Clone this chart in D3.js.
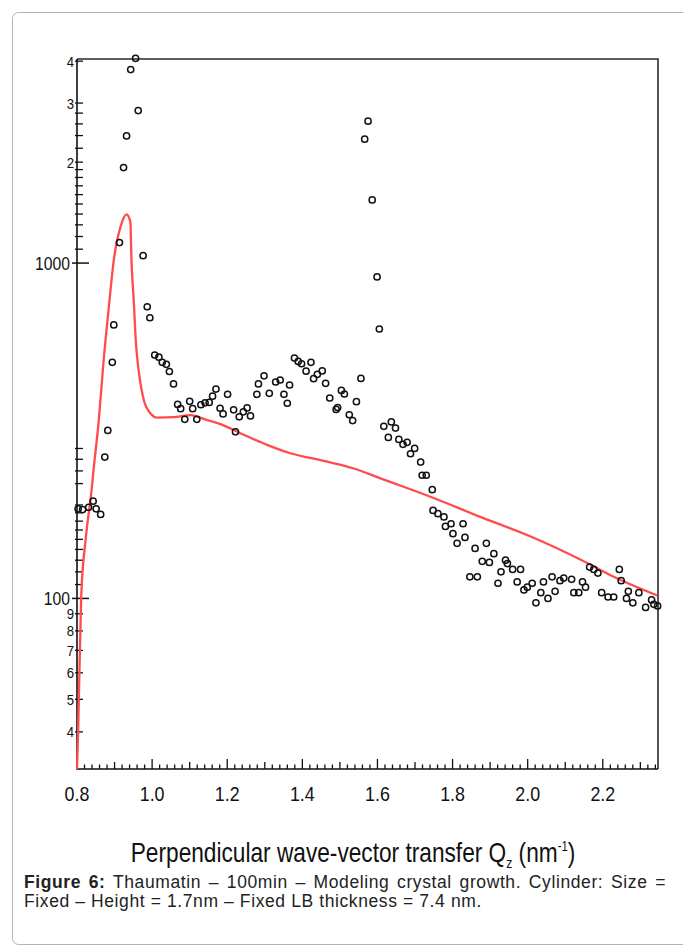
<!DOCTYPE html>
<html>
<head>
<meta charset="utf-8">
<script src="https://cdn.jsdelivr.net/npm/d3@7"></script>
<style>
  body { margin: 0; background: #fff; }
  #wrap { position: relative; width: 683px; height: 947px; overflow: hidden; }
  .cap { position: absolute; left: 24px; width: 642px; font-family: "Liberation Sans", Arial, sans-serif;
         font-size: 17.5px; letter-spacing: 0.6px; line-height: 19px; color: #222; white-space: nowrap; }
  .cap.just { text-align: justify; text-align-last: justify; white-space: normal; }
</style>
</head>
<body>
<div id="wrap"></div>
<script>
// measured scattering intensity (open circles)
const qData = [0.803, 0.815, 0.831, 0.843, 0.851, 0.863, 0.874, 0.882, 0.894, 0.898,
    0.913, 0.924, 0.932, 0.943, 0.956, 0.963, 0.976, 0.987, 0.994, 1.007,
    1.018, 1.027, 1.038, 1.046, 1.057, 1.068, 1.076, 1.087, 1.100, 1.108,
    1.119, 1.130, 1.141, 1.152, 1.161, 1.170, 1.181, 1.189, 1.201, 1.217,
    1.222, 1.232, 1.243, 1.253, 1.262, 1.279, 1.283, 1.298, 1.312, 1.329,
    1.341, 1.351, 1.360, 1.366, 1.379, 1.389, 1.398, 1.410, 1.423, 1.430,
    1.440, 1.453, 1.462, 1.473, 1.490, 1.494, 1.504, 1.512, 1.525, 1.534,
    1.544, 1.556, 1.566, 1.575, 1.586, 1.599, 1.605, 1.617, 1.629, 1.637,
    1.648, 1.657, 1.668, 1.679, 1.688, 1.699, 1.715, 1.719, 1.730, 1.746,
    1.748, 1.761, 1.777, 1.781, 1.796, 1.801, 1.812, 1.828, 1.833, 1.846,
    1.860, 1.866, 1.879, 1.890, 1.898, 1.910, 1.921, 1.929, 1.941, 1.946,
    1.960, 1.972, 1.981, 1.990, 1.999, 2.012, 2.022, 2.035, 2.042, 2.054,
    2.065, 2.073, 2.086, 2.096, 2.117, 2.123, 2.136, 2.146, 2.154, 2.165,
    2.176, 2.187, 2.197, 2.214, 2.229, 2.244, 2.249, 2.263, 2.268, 2.280,
    2.296, 2.314, 2.330, 2.336, 2.346];
const iData = [185, 184, 187, 195, 185, 178, 264, 317, 506, 654,
    1151, 1926, 2394, 3776, 4080, 2849, 1052, 741, 687, 532,
    524, 506, 499, 475, 436, 379, 368, 342, 387, 368,
    342, 378, 383, 384, 401, 421, 369, 355, 406, 365,
    314, 348, 360, 370, 350, 406, 436, 461, 409, 442,
    448, 406, 382, 433, 521, 509, 501, 476, 506, 452,
    466, 477, 438, 396, 366, 371, 417, 407, 353, 339,
    386, 453, 2341, 2649, 1543, 909, 636, 326, 302, 336,
    322, 298, 288, 292, 270, 280, 255, 233, 233, 211,
    183, 179, 175, 164, 167, 156, 146, 167, 152, 116,
    141, 116, 129, 146, 128, 136, 111, 120, 130, 127,
    122, 112, 122, 106, 108, 111, 97, 104, 112, 100,
    116, 105, 113, 115, 114, 104, 104, 112, 108, 124,
    122, 119, 104, 101, 101, 122, 113, 100, 105, 97,
    104, 94, 99, 96, 95];

// cylinder model (red curve)
const fitQ = [0.800, 0.803, 0.811, 0.823, 0.831, 0.836, 0.845, 0.858, 0.871, 0.884,
    0.898, 0.916, 0.932, 0.942, 0.945, 0.951, 0.957, 0.964, 0.978, 0.996,
    1.013, 1.058, 1.102, 1.147, 1.182, 1.235, 1.306, 1.368, 1.457, 1.537,
    1.608, 1.741, 1.874, 2.008, 2.144, 2.229, 2.345];
const fitI = [31, 40, 100, 150, 179, 197, 247, 340, 514, 725,
    1021, 1284, 1398, 1329, 1021, 776, 576, 480, 390, 356,
    346, 347, 352, 340, 331, 311, 287, 271, 257, 244,
    228, 201, 175, 153, 130, 116, 102];

// axis ticks
const xTickLabels = ["0.8", "1.0", "1.2", "1.4", "1.6", "1.8", "2.0", "2.2"];
const yMajorTicks = [100, 1000];
const yDigitTicks = [40, 50, 60, 70, 80, 90, 2000, 3000, 4000];
const yDigitLabels = ["4", "5", "6", "7", "8", "9", "2", "3", "4"];
const yMinorTicks = [110, 120, 130, 140, 150, 160, 170, 180, 190, 220, 240, 260, 280,
    1100, 1200, 1300, 1400, 1500, 1600, 1700, 1800, 1900, 2200, 2400, 2600, 2800];

const pLeft = 77, pRight = 658, pTop = 59, pBottom = 769;
const font = '"Liberation Sans", Arial, sans-serif';
const squeeze = 0.85; // the original labels use a condensed face

let wrap = d3.select("#wrap");

let svg = wrap.append("svg")
    .attr("width", 683)
    .attr("height", 947)
    .style("position", "absolute")
    .style("left", 0)
    .style("top", 0);

// page box
svg.append("rect")
    .attr("x", 12.5).attr("y", 12.5)
    .attr("width", 700).attr("height", 932)
    .attr("rx", 6)
    .attr("fill", "none")
    .attr("stroke", "#b4b4b4")
    .attr("stroke-width", 1);

//Create scale functions
let xScale = d3.scaleLinear()
    .domain([0.8, 2.347])
    .range([pLeft, pRight]);

let yScale = d3.scaleLog()
    .domain([31, 4060])
    .range([pBottom, pTop]);

// frame (top and right)
svg.append("path")
    .attr("d", `M${pLeft},${pTop}H${pRight}V${pBottom}`)
    .attr("fill", "none")
    .attr("stroke", "#2a2a2a")
    .attr("stroke-width", 1.6);

//X axis ticks every 0.02
let xt = d3.range(1, 78).map((i) => 0.8 + i * 0.02);
svg.append("g").selectAll("line")
    .data(xt)
    .join("line")
    .attr("x1", (d) => xScale(d)).attr("x2", (d) => xScale(d))
    .attr("y1", pBottom)
    .attr("y2", (d, i) => {
        let k = i + 1;
        if (k % 10 === 0) return pBottom - 10;
        if (k % 5 === 0) return pBottom - 7;
        return pBottom - 4.5;
    })
    .attr("stroke", "#111")
    .attr("stroke-width", 1.3);

svg.append("g").selectAll("text")
    .data(xTickLabels)
    .join("text")
    .attr("transform", (d) => `translate(${xScale(+d)},801) scale(${squeeze},1)`)
    .attr("text-anchor", "middle")
    .attr("font-family", font)
    .attr("font-size", "21px")
    .attr("fill", "#111")
    .text((d) => d);

//Y axis ticks
svg.append("g").selectAll("line")
    .data(yMinorTicks.concat(yDigitTicks))
    .join("line")
    .attr("x1", pLeft - 2).attr("x2", pLeft + 6)
    .attr("y1", (d) => yScale(d)).attr("y2", (d) => yScale(d))
    .attr("stroke", "#111")
    .attr("stroke-width", 1.3);

svg.append("g").selectAll("line")
    .data(yMajorTicks)
    .join("line")
    .attr("x1", pLeft - 5).attr("x2", pLeft + 12)
    .attr("y1", (d) => yScale(d)).attr("y2", (d) => yScale(d))
    .attr("stroke", "#111")
    .attr("stroke-width", 1.5);

svg.append("g").selectAll("text")
    .data(yDigitTicks)
    .join("text")
    .attr("transform", (d) => `translate(74,${yScale(d) + 5.5}) scale(${squeeze},1)`)
    .attr("text-anchor", "end")
    .attr("font-family", font)
    .attr("font-size", "15.5px")
    .attr("fill", "#111")
    .text((d, i) => yDigitLabels[i]);

svg.append("g").selectAll("text")
    .data(yMajorTicks)
    .join("text")
    .attr("transform", (d) => `translate(70,${yScale(d) + 6.5}) scale(${squeeze},1)`)
    .attr("text-anchor", "end")
    .attr("font-family", font)
    .attr("font-size", "18.5px")
    .attr("fill", "#111")
    .text((d) => d);

// axis lines
svg.append("path")
    .attr("d", `M${pLeft},${pTop}V${pBottom}H${pRight}`)
    .attr("fill", "none")
    .attr("stroke", "#111")
    .attr("stroke-width", 1.6);

// model curve
let fit = fitQ.map((q, i) => [q, fitI[i]]);
svg.append("path")
    .datum(fit)
    .attr("d", d3.line()
        .x((d) => xScale(d[0]))
        .y((d) => yScale(d[1]))
        .curve(d3.curveMonotoneX))
    .attr("fill", "none")
    .attr("stroke", "#ff4b4b")
    .attr("stroke-width", 2.3)
    .attr("stroke-linejoin", "round");

//Create circles
svg.append("g").selectAll("circle")
    .data(qData)
    .join("circle")
    .attr("cx", (d) => xScale(d))
    .attr("cy", (d, i) => yScale(iData[i]))
    .attr("r", 3.1)
    .attr("fill", "none")
    .attr("stroke", "#111")
    .attr("stroke-width", 1.5);

// x axis title
let title = svg.append("text")
    .attr("transform", `translate(353,862) scale(0.81,1)`)
    .attr("text-anchor", "middle")
    .attr("font-family", font)
    .attr("font-size", "28px")
    .attr("fill", "#111");
title.append("tspan").text("Perpendicular wave-vector transfer Q");
title.append("tspan").attr("font-size", "15px").attr("dy", 6).text("z");
title.append("tspan").attr("dy", -6).text(" (nm");
title.append("tspan").attr("font-size", "14px").attr("dy", -11).text("-1");
title.append("tspan").attr("dy", 11).text(")");

// caption
wrap.append("div")
    .attr("class", "cap just")
    .style("top", "873px")
    .html("<b>Figure 6:</b> Thaumatin – 100min – Modeling crystal growth. Cylinder: Size =");
wrap.append("div")
    .attr("class", "cap")
    .style("top", "892px")
    .text("Fixed – Height = 1.7nm – Fixed LB thickness = 7.4 nm.");
</script>
</body>
</html>
